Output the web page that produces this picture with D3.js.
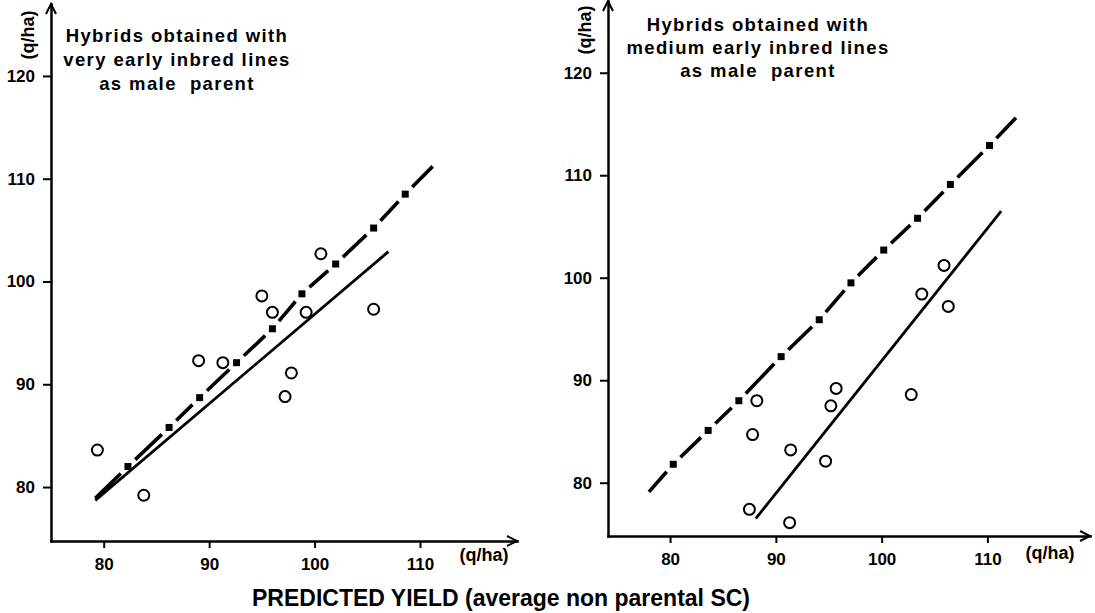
<!DOCTYPE html>
<html>
<head>
<meta charset="utf-8">
<script src="https://cdn.jsdelivr.net/npm/d3@7"></script>
<style>
  body { margin: 0; background: #fff; }
  svg { display: block; }
  text { font-family: "Liberation Sans", Arial, Helvetica, sans-serif; font-weight: bold; fill: #000; }
</style>
</head>
<body>
<div id="chart"></div>
<script>
// Tick values shared by both panels
var xTicks = [80, 90, 100, 110];
var yTicks = [80, 90, 100, 110, 120];

// Left panel: very early inbred lines as male parent
var earlyObsX = [79.4, 83.8, 89.0, 91.3, 95.0, 96.0, 99.2, 100.6, 97.2, 97.8, 105.6];
var earlyObsY = [83.6, 79.2, 92.3, 92.1, 98.6, 97.0, 97.0, 102.7, 88.8, 91.1, 97.3];
var earlyRefX = [82.3, 86.2, 89.1, 92.6, 96.0, 98.8, 102.0, 105.6, 108.6];
var earlyRefY = [82.0, 85.8, 88.7, 92.1, 95.4, 98.8, 101.7, 105.2, 108.5];
var earlyRefEnds = [[79.2, 78.9], [111.2, 111.2]];
var earlyFit = [[79.2, 78.7], [107.0, 102.9]];
var earlyTitle = ['Hybrids obtained with', 'very early inbred lines', 'as male  parent'];

// Right panel: medium early inbred lines as male parent
var mediumObsX = [87.5, 91.3, 87.8, 88.2, 91.4, 94.7, 95.2, 95.7, 102.8, 103.8, 105.9, 106.3];
var mediumObsY = [77.4, 76.1, 84.7, 88.0, 83.2, 82.1, 87.5, 89.2, 88.6, 98.4, 101.2, 97.2];
var mediumRefX = [80.3, 83.6, 86.5, 90.5, 94.1, 97.1, 100.2, 103.4, 106.5, 110.2];
var mediumRefY = [81.8, 85.1, 88.0, 92.3, 95.9, 99.5, 102.7, 105.8, 109.1, 112.9];
var mediumRefEnds = [[78.0, 79.1], [112.7, 115.6]];
var mediumFit = [[88.1, 76.5], [111.3, 106.5]];
var mediumTitle = ['Hybrids obtained with', 'medium early inbred lines', 'as male  parent'];

var unitLabel = '(q/ha)';
var bottomTitle = 'PREDICTED YIELD (average non parental SC)';

var width = 1095;
var height = 613;

var svg = d3.select('#chart')
  .append('svg')
  .attr('width', width)
  .attr('height', height);

svg.append('rect')
  .attr('width', width)
  .attr('height', height)
  .attr('fill', '#fff');

var panels = [
  {
    obsX: earlyObsX, obsY: earlyObsY, refX: earlyRefX, refY: earlyRefY,
    refEnds: earlyRefEnds, fit: earlyFit, title: earlyTitle,
    xDomain: [75, 119.2], xRange: [51, 517],
    yDomain: [74.75, 127], yRange: [541, 4],
    titleX: 177, titleY: [41.5, 65.5, 89.5],
    yLabel: [28, 35], xLabel: [484, 561]
  },
  {
    obsX: mediumObsX, obsY: mediumObsY, refX: mediumRefX, refY: mediumRefY,
    refEnds: mediumRefEnds, fit: mediumFit, title: mediumTitle,
    xDomain: [74.13, 119.7], xRange: [608, 1090],
    yDomain: [74.8, 127], yRange: [536, 1],
    titleX: 758, titleY: [30.5, 53.5, 76.5],
    yLabel: [585, 30], xLabel: [1050, 559]
  }
];

panels.forEach(drawPanel);

// common x axis title
svg.append('text')
  .attr('x', 501)
  .attr('y', 606)
  .attr('text-anchor', 'middle')
  .attr('font-size', 23)
  .text(bottomTitle);

function drawPanel(p) {
  var x = d3.scaleLinear().domain(p.xDomain).range(p.xRange);
  var y = d3.scaleLinear().domain(p.yDomain).range(p.yRange);
  var g = svg.append('g');

  // Axes
  var xAxis = g.append('g')
    .attr('transform', 'translate(0,' + p.yRange[0] + ')')
    .call(d3.axisBottom(x).tickValues(xTicks).tickSize(7).tickSizeOuter(0).tickPadding(10));
  var yAxis = g.append('g')
    .attr('transform', 'translate(' + p.xRange[0] + ',0)')
    .call(d3.axisLeft(y).tickValues(yTicks).tickSize(8).tickSizeOuter(0).tickPadding(8));

  [xAxis, yAxis].forEach(function (a) {
    a.attr('font-size', 17);
    a.select('.domain').attr('stroke', '#000').attr('stroke-width', 2.5).attr('stroke-linecap', 'square');
    a.selectAll('.tick line').attr('stroke', '#000').attr('stroke-width', 2);
  });

  // Arrow heads
  var x1 = p.xRange[1], yb = p.yRange[0];
  var x0 = p.xRange[0], y1 = p.yRange[1];
  g.append('path')
    .attr('d', 'M' + (x1 - 10) + ',' + (yb - 5) + 'L' + x1 + ',' + yb + 'L' + (x1 - 10) + ',' + (yb + 5))
    .attr('fill', 'none').attr('stroke', '#000').attr('stroke-width', 2);
  g.append('path')
    .attr('d', 'M' + (x0 - 5) + ',' + (y1 + 10) + 'L' + x0 + ',' + y1 + 'L' + (x0 + 5) + ',' + (y1 + 10))
    .attr('fill', 'none').attr('stroke', '#000').attr('stroke-width', 2);

  // Unit labels
  g.append('text')
    .attr('transform', 'translate(' + p.yLabel[0] + ',' + p.yLabel[1] + ') rotate(-90)')
    .attr('dy', '0.35em')
    .attr('text-anchor', 'middle')
    .attr('font-size', 18)
    .text(unitLabel);
  g.append('text')
    .attr('x', p.xLabel[0])
    .attr('y', p.xLabel[1])
    .attr('text-anchor', 'middle')
    .attr('font-size', 18)
    .text(unitLabel);

  // Title
  g.selectAll('.title')
    .data(p.title)
    .enter()
    .append('text')
    .attr('class', 'title')
    .attr('x', p.titleX)
    .attr('y', function (d, i) { return p.titleY[i]; })
    .attr('text-anchor', 'middle')
    .attr('font-size', 18.5)
    .attr('letter-spacing', 1.4)
    .style('white-space', 'pre')
    .text(function (d) { return d; });

  var line = d3.line()
    .x(function (d) { return x(d[0]); })
    .y(function (d) { return y(d[1]); });

  // Regression line
  g.append('path')
    .datum(p.fit)
    .attr('d', line)
    .attr('fill', 'none')
    .attr('stroke', '#000')
    .attr('stroke-width', 2.8);

  // Dashed reference line with squares sitting in the gaps
  var squares = p.refX.map(function (v, i) { return [v, p.refY[i]]; });
  var pts = [p.refEnds[0]].concat(squares, [p.refEnds[1]]).map(function (d) {
    return [x(d[0]), y(d[1])];
  });
  var gap = 10;
  var segs = [];
  for (var i = 0; i < pts.length - 1; i++) {
    var a = pts[i], b = pts[i + 1];
    var dx = b[0] - a[0], dy = b[1] - a[1];
    var len = Math.sqrt(dx * dx + dy * dy);
    var t0 = i > 0 ? gap / len : 0;
    var t1 = i + 1 < pts.length - 1 ? 1 - gap / len : 1;
    segs.push([[a[0] + dx * t0, a[1] + dy * t0], [a[0] + dx * t1, a[1] + dy * t1]]);
  }
  g.selectAll('.dash')
    .data(segs)
    .enter()
    .append('path')
    .attr('class', 'dash')
    .attr('d', function (d) { return d3.line()(d); })
    .attr('stroke', '#000')
    .attr('stroke-width', 3.6)
    .attr('fill', 'none');

  g.selectAll('.sq')
    .data(squares)
    .enter()
    .append('rect')
    .attr('class', 'sq')
    .attr('x', function (d) { return x(d[0]) - 3.5; })
    .attr('y', function (d) { return y(d[1]) - 3.5; })
    .attr('width', 7)
    .attr('height', 7)
    .attr('fill', '#000');

  // Observed hybrids
  g.selectAll('.obs')
    .data(p.obsX)
    .enter()
    .append('circle')
    .attr('class', 'obs')
    .attr('cx', function (d) { return x(d); })
    .attr('cy', function (d, i) { return y(p.obsY[i]); })
    .attr('r', 5.5)
    .attr('fill', 'none')
    .attr('stroke', '#000')
    .attr('stroke-width', 2);
}
</script>
</body>
</html>
